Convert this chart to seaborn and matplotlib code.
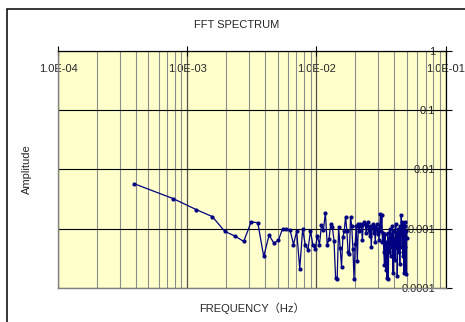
import numpy as np
import pandas as pd
import matplotlib
matplotlib.use("Agg")
import matplotlib.pyplot as plt
import matplotlib.ticker as mticker
from matplotlib.patches import Rectangle
import seaborn as sns

# --- data ---
n_points = 128
df_hz = 1 / 2560  # frequency step of the FFT
amplitude = [
    0.0057, 0.0032, 0.0021, 0.0016, 0.0009, 0.00075, 0.00061, 0.0013, 0.00126, 0.00034,
    0.00078, 0.00057, 0.00064, 0.001, 0.00097, 0.00095, 0.00054, 0.00091, 0.00021, 0.00097,
    0.00053, 0.00044, 0.00091, 0.00054, 0.00045, 0.00075, 0.00054, 0.00115, 0.00095, 0.00187,
    0.00054, 0.00066, 0.0012, 0.00105, 0.00063, 0.000145, 0.00014, 0.00105, 0.00048, 0.00023,
    0.00073, 0.00091, 0.0016, 0.00091, 0.0004, 0.00038, 0.0016, 0.0011, 0.00045, 0.00014,
    0.00055, 0.0011, 0.00028, 0.0012, 0.0009, 0.0012, 0.0011, 0.00065, 0.0012, 0.0013,
    0.0012, 0.00085, 0.0011, 0.0013, 0.00095, 0.00075, 0.0011, 0.0005, 0.00105, 0.0012,
    0.00085, 0.00105, 0.0006, 0.001, 0.0012, 0.0008, 0.001, 0.00065, 0.0011, 0.0018,
    0.0009, 0.0017, 0.0006, 0.00085, 0.0004, 0.00024, 0.0008, 0.0002, 0.0006, 0.00015,
    0.00085, 0.00014, 0.0007, 0.0004, 0.001, 0.00035, 0.0008, 0.0005, 0.0011, 0.00018,
    0.0009, 0.00045, 0.0007, 0.0003, 0.0012, 0.0005, 0.00085, 0.00016, 0.0006, 0.001,
    0.0004, 0.0009, 0.00025, 0.0011, 0.0005, 0.0017, 0.0008, 0.0013, 0.00035, 0.0012,
    0.0006, 0.00018, 0.0013, 0.0005, 0.0011, 0.00017, 0.0009, 0.0007,
]
x_ticks = [1e-4, 1e-3, 1e-2, 1e-1]
y_ticks = [1e-4, 1e-3, 1e-2, 1e-1, 1]

frequency = np.arange(1, n_points + 1) * df_hz
data = pd.DataFrame({"freq": frequency, "amp": amplitude})

# --- style ---
sns.set_style("white")
plt.rcParams["font.family"] = ["Liberation Sans", "Noto Sans CJK JP", "DejaVu Sans"]
plt.rcParams["font.size"] = 8

fig = plt.figure(figsize=(4.65, 3.22), dpi=100)
ax = fig.add_axes([58 / 465, 1 - 288 / 322, 387.7 / 465, 237.3 / 322])
ax.set_facecolor("#FFFFCC")

sns.lineplot(data=data, x="freq", y="amp", ax=ax, sort=False, color="#000080",
             lw=0.9, marker="o", markersize=3, markeredgewidth=0, zorder=3)

ax.set_xscale("log")
ax.set_yscale("log")
ax.set_xlim(1e-4, 1e-1)
ax.set_ylim(1e-4, 1)

ax.xaxis.set_major_locator(mticker.FixedLocator(x_ticks))
ax.xaxis.set_minor_locator(mticker.LogLocator(base=10, subs=np.arange(2, 10)))
ax.xaxis.set_major_formatter(mticker.FuncFormatter(lambda v, _: f"{v:.1E}"))
ax.xaxis.set_minor_formatter(mticker.NullFormatter())
ax.yaxis.set_major_locator(mticker.FixedLocator(y_ticks))
ax.yaxis.set_minor_locator(mticker.NullLocator())
ax.yaxis.set_major_formatter(mticker.FuncFormatter(lambda v, _: f"{v:g}"))

# gridlines
ax.set_axisbelow(True)
ax.grid(which="minor", axis="x", color="#8c8c8c", lw=0.8)
ax.grid(which="major", axis="x", color="#505050", lw=0.9)
ax.grid(which="major", axis="y", color="black", lw=0.8)

# axes cross at the top (x) and the right (y), like the Excel chart
ax.tick_params(axis="x", which="major", top=True, bottom=False, labeltop=True,
               labelbottom=False, direction="inout", length=7, pad=-20.5,
               color="black", width=0.8)
ax.tick_params(axis="x", which="minor", top=False, bottom=False)
ax.tick_params(axis="y", which="major", left=False, right=True, labelleft=False,
               labelright=True, direction="inout", length=8, pad=-11.7,
               color="black", width=0.8)
for lbl in ax.get_yticklabels():
    lbl.set_horizontalalignment("right")

for side in ["top", "right"]:
    ax.spines[side].set_color("black")
    ax.spines[side].set_linewidth(0.9)
for side in ["left", "bottom"]:
    ax.spines[side].set_color("#808080")
    ax.spines[side].set_linewidth(1.0)

ax.set_xlabel("FREQUENCY（Hz）", labelpad=5)
ax.set_ylabel("Amplitude", labelpad=19)
fig.text(236.5 / 465, 1 - 25 / 322, "FFT SPECTRUM", ha="center", va="center")

# outer chart border (runs off the right and bottom of the image)
fig.patches.append(Rectangle((7.3 / 465, -0.1), 1.2, 1.1 - 9.3 / 322,
                             transform=fig.transFigure, fill=False,
                             edgecolor="black", lw=1.1))

fig.savefig("out.png", dpi=100)
